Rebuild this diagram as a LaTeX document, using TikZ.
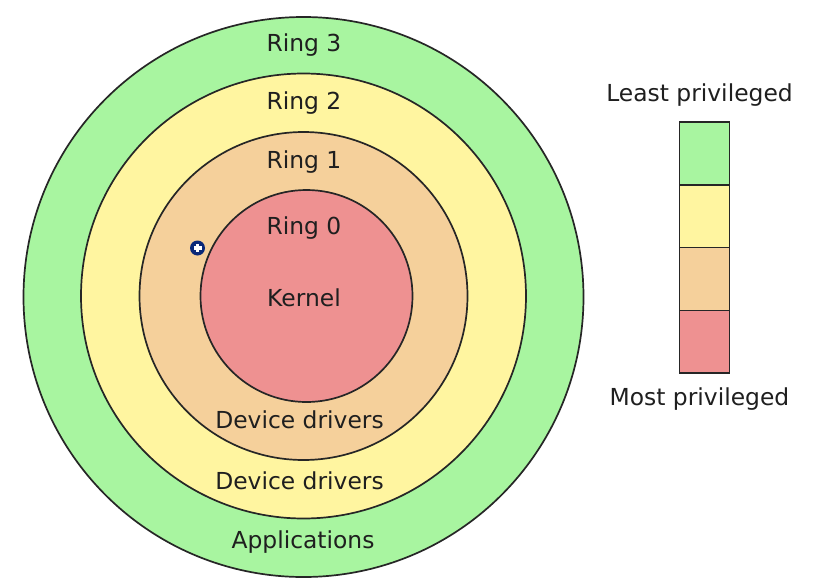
\documentclass[tikz,border=0pt]{standalone}
\usepackage{fontspec}
\setmainfont{DejaVu Sans}
\definecolor{rgreen}{RGB}{168,245,160}
\definecolor{ryellow}{RGB}{255,245,160}
\definecolor{rtan}{RGB}{245,208,155}
\definecolor{rpink}{RGB}{238,145,145}
\definecolor{cursorblue}{RGB}{10,40,120}
\tikzset{
  ring/.style={draw=black!85, line width=1.7pt},
  lbl/.style={font=\fontsize{23.4}{26}\selectfont, text=black!88, inner sep=0pt},
  seg/.style={draw=black!85, line width=1.5pt, minimum width=50pt, minimum height=62.75pt, inner sep=0pt}
}
\begin{document}
\begin{tikzpicture}[x=1pt,y=-1pt]
\useasboundingbox (0,0) rectangle (820,582);
\fill[white] (0,0) rectangle (820,582);
\node[ring, circle, fill=rgreen, minimum size=560pt, inner sep=0pt] (r3) at (303.5,297) {};
\node[ring, circle, fill=ryellow, minimum size=445pt, inner sep=0pt] (r2) at (303.5,296) {};
\node[ring, circle, fill=rtan, minimum size=328pt, inner sep=0pt] (r1) at (303.5,296) {};
\node[ring, circle, fill=rpink, minimum size=212pt, inner sep=0pt] (r0) at (306.5,296) {};
\node[lbl] (t3) at (304,45) {Ring 3};
\node[lbl] (t2) at (304,103) {Ring 2};
\node[lbl] (t1) at (304,162) {Ring 1};
\node[lbl] (t0) at (304,228) {Ring 0};
\node[lbl] (tk) at (304,298) {Kernel};
\node[lbl] (td1) at (299.5,420) {Device drivers};
\node[lbl] (td2) at (299.5,481) {Device drivers};
\node[lbl] (ta) at (303,542) {Applications};
% legend
\node[seg, fill=rgreen] (lg) at (704.5,153.5) {};
\node[seg, fill=ryellow] (ly) at (704.5,216.25) {};
\node[seg, fill=rtan] (lt) at (704.5,279) {};
\node[seg, fill=rpink] (lp) at (704.5,341.75) {};
\node[lbl] (least) at (699.5,95) {Least privileged};
\node[lbl] (most) at (699.5,399) {Most privileged};
% cursor marker
\node[circle, fill=cursorblue, minimum size=15pt, inner sep=0pt] (cur) at (197.5,248) {};
\fill[white] (cur.center) ++(-4,-1.6) rectangle ++(8,3.2);
\fill[white] (cur.center) ++(-1.6,-4) rectangle ++(3.2,8);
\end{tikzpicture}
\end{document}
